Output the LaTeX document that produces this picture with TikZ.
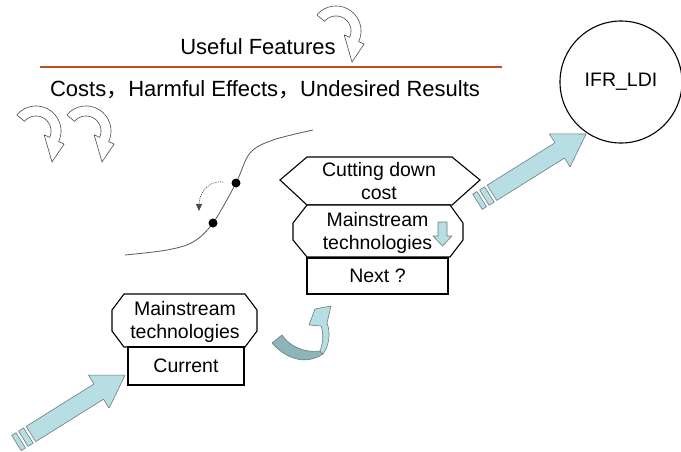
\documentclass[tikz,border=0pt]{standalone}
\usepackage{fontspec}
\setmainfont{Liberation Sans}
\newfontfamily\cjkfont{Noto Sans CJK SC}
\usetikzlibrary{arrows.meta}
\definecolor{arrowblue}{RGB}{183,222,226}
\definecolor{arrowdark}{RGB}{141,180,184}
\definecolor{arrowedge}{RGB}{110,125,127}
\definecolor{rulecolor}{RGB}{192,80,30}
\begin{document}
\begin{tikzpicture}[x=1pt,y=-1pt,
  shapeline/.style={draw=black,line width=1.1pt,fill=white},
  boxtext/.style={font=\fontsize{19.5}{23}\selectfont,align=center,inner sep=0pt},
  headtext/.style={font=\fontsize{22}{26}\selectfont,inner sep=0pt},
  bluefill/.style={fill=arrowblue,draw=arrowedge,line width=0.6pt,line join=round},
  darkfill/.style={fill=arrowdark,draw=arrowedge,line width=0.6pt,line join=round},
  outlinecurl/.style={fill=white,draw=black!70,line width=0.6pt,line join=round},
  dotmark/.style={circle,fill=black,inner sep=0pt,minimum size=9pt},
  pics/stripedarrow/.style={code={
    \path[bluefill] (0,-9) -- (5,-9) -- (5,9) -- (0,9) -- cycle;
    \path[bluefill] (8,-9) -- (14,-9) -- (14,9) -- (8,9) -- cycle;
    \path[bluefill] (17,-9) -- (97,-9) -- (97,-19.5) -- (128,0) -- (97,19.5) -- (97,9) -- (17,9) -- cycle;
  }},
  pics/curlarrow/.style={code={
    \path[outlinecurl] plot[domain=-140:25,samples=40] (\x:25) -- (25:31) -- (16,31) -- (25:9)
      -- plot[domain=25:-140,samples=40] (\x:15) -- cycle;
  }}
]
\path[fill=white] (0,0) rectangle (681,451);
\useasboundingbox (0,0) rectangle (681,451);

% headline and rule
\node[headtext] (useful) at (258,47) {Useful Features};
\coordinate (ruleL) at (40,67);
\coordinate (ruleR) at (502,67);
\draw[rulecolor,line width=2.5pt] (ruleL) -- (ruleR);
\node[headtext] (costs) at (265,90) {Costs{\cjkfont ，}Harmful Effects{\cjkfont ，}Undesired Results};

% decorative curled arrows
\pic at (36,131) {curlarrow};
\pic at (86,131) {curlarrow};
\pic at (336,31) {curlarrow};

% ideal final result
\node[draw,circle,line width=1.1pt,minimum size=122pt,inner sep=0pt,
      font=\fontsize{19.5}{23}\selectfont] (ifr) at (621,82) {IFR\_LDI};

% S-curve with two points
\draw[black!65,line width=0.8pt] plot[smooth,tension=0.55] coordinates
  {(125,255) (167,250) (193,242) (213,223) (236,183) (250,153) (273,140) (313,130)};
\node[dotmark] (p1) at (213,223) {};
\node[dotmark] (p2) at (236,183) {};
\coordinate (dstart) at (223,182);
\coordinate (dend) at (199,211);
\draw[black!70,line width=0.8pt,dash pattern=on 1pt off 1.2pt,-{Triangle[length=7pt,width=6pt]}]
  (dstart) .. controls (208,180) and (199,194) .. (dend);

% upper stack
\draw[shapeline] (307,157) -- (452,157) -- (480,180) -- (452,205) -- (307,205) -- (280,180) -- cycle;
\node[boxtext] (cut) at (379,181.5) {Cutting down\\cost};
\draw[shapeline] (307,205) -- (450,205) -- (463,223) -- (463,240) -- (450,257) -- (307,257) -- (293,240) -- (293,223) -- cycle;
\node[boxtext] (mainup) at (377.5,233) {Mainstream\\technologies};
\path[bluefill] (438,222) -- (447,222) -- (447,236) -- (452,236) -- (442.5,246) -- (433,236) -- (438,236) -- cycle;
\node[shapeline,minimum width=141pt,minimum height=36pt,inner sep=0pt,
      font=\fontsize{19.5}{23}\selectfont] (next) at (377.5,276) {Next ?};

% lower stack
\draw[shapeline] (124,294) -- (245,294) -- (257,310) -- (257,331) -- (245,347) -- (124,347) -- (112,331) -- (112,310) -- cycle;
\node[boxtext] (maindown) at (185,322) {Mainstream\\technologies};
\node[shapeline,minimum width=116pt,minimum height=38pt,inner sep=0pt,
      font=\fontsize{19.5}{23}\selectfont] (cur) at (186,366) {Current};

% turning arrow between the stacks
\path[darkfill] (272,343) .. controls (285,358) and (305,366) .. (323,354) -- (320,351)
  .. controls (305,353) and (290,347) .. (282,335) -- cycle;
\path[bluefill] (320,351) .. controls (323,343) and (324,334) .. (321,326) -- (309,325)
  -- (315,309) -- (331,306) -- (327,323) .. controls (331,333) and (329,346) .. (323,354) -- cycle;

% striped arrows
\pic[rotate=32] at (16.5,443) {stripedarrow};
\pic[rotate=32] at (477.5,201.8) {stripedarrow};
\end{tikzpicture}
\end{document}
